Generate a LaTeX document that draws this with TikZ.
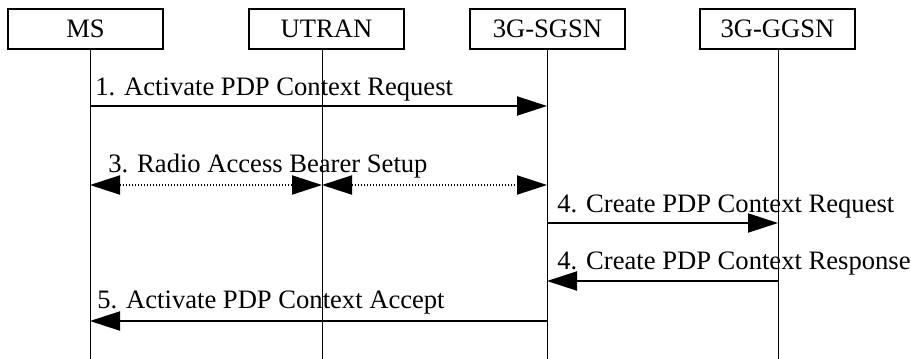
\documentclass[tikz,border=0pt]{standalone}
\usepackage{fontspec}
\setmainfont{Liberation Serif}
\usetikzlibrary{arrows.meta}

\begin{document}
\begin{tikzpicture}[x=0.5pt,y=-0.5pt,font=\fontsize{13.3}{16}\selectfont,
  entity/.style={draw, line width=1pt, minimum width=77.5pt, minimum height=20pt, inner sep=0pt},
  life/.style={line width=0.5pt},
  msg/.style={line width=1pt, -{Triangle[length=15pt,width=9.5pt]}},
  radio/.style={line width=1pt, dash pattern=on 0.75pt off 0.75pt,
    {Triangle[length=15pt,width=9.5pt]}-{Triangle[length=15pt,width=9.5pt]}},
  txt/.style={anchor=base west, inner sep=0pt}]
\useasboundingbox (0,0) rectangle (911,359);

% entities and lifelines
\foreach \n/\x/\bx/\t in {ms/90/85.5/MS, utran/322/326.5/UTRAN, sgsn/547/547.5/3G-SGSN, ggsn/778/777.5/3G-GGSN} {
  \node[entity] (\n-box) at (\bx,29) {\t};
  \coordinate (\n) at (\x,49);
  \coordinate (\n-end) at (\x,359);
  \draw[life] (\n) -- (\n-end);
  \foreach \r/\y in {a/106, b/185, c/223, d/281, e/321}
    \coordinate (\n-\r) at (\n |- 0,\y);
}

% messages
\draw[msg] (ms-a) -- (sgsn-a);
\node[txt] (l1) at (95,95) {1. Activate PDP Context Request};

\draw[radio] (ms-b) -- (utran-b);
\draw[radio] (utran-b) -- (sgsn-b);
\node[txt] (l3) at (108,172) {3. Radio Access Bearer Setup};

\draw[msg] (sgsn-c) -- (ggsn-c);
\node[txt] (l4a) at (557,212) {4. Create PDP Context Request};

\draw[msg] (ggsn-d) -- (sgsn-d);
\node[txt] (l4b) at (557,269) {4. Create PDP Context Response};

\draw[msg] (sgsn-e) -- (ms-e);
\node[txt] (l5) at (97,308) {5. Activate PDP Context Accept};

\end{tikzpicture}
\end{document}
